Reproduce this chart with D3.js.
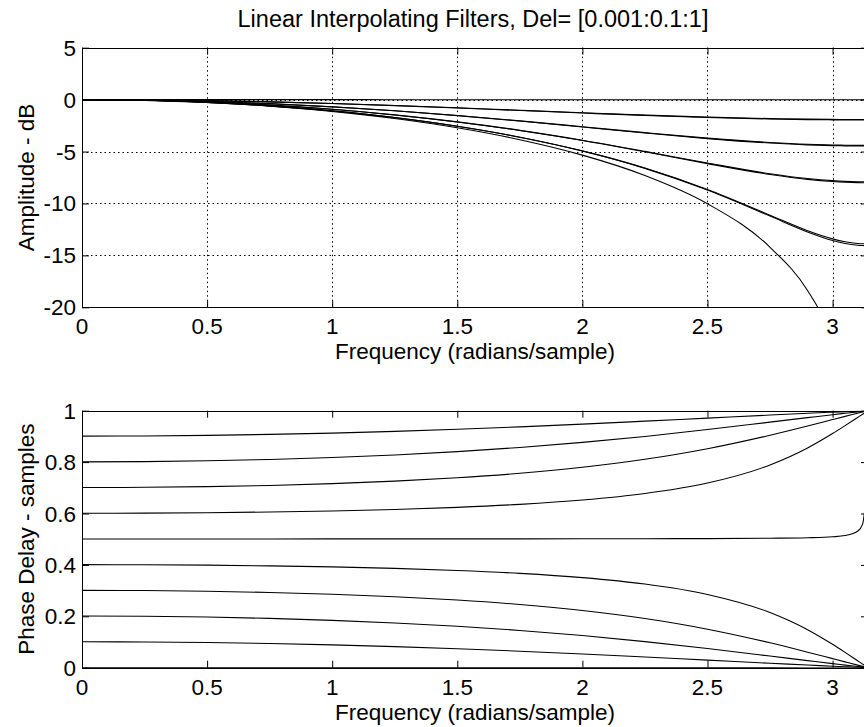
<!DOCTYPE html>
<html lang="en">
<head>
<meta charset="UTF-8">
<title>Linear Interpolating Filters</title>
<script src="https://cdn.jsdelivr.net/npm/d3@7"></script>
<style>
    body { margin: 0; background: #fff; overflow: hidden; }
    text { font-family: "Liberation Sans", Arial, Helvetica, sans-serif; fill: #000; }
    .grid line { stroke: #000; stroke-width: 1; stroke-dasharray: 1.5,3; }
    .curve { fill: none; stroke: #000; stroke-width: 1.1; }
    .tick line { stroke: #000; }
</style>
</head>
<body>
<script>
    // frequency grid (radians/sample)
    var freq = [0, 0.25, 0.5, 0.75, 1, 1.25, 1.5, 1.75, 2, 2.25, 2.5, 2.75, 2.9, 3.0, 3.05, 3.1, 3.12, 3.135];
    var delays = [0.001, 0.101, 0.201, 0.301, 0.401, 0.501, 0.601, 0.701, 0.801, 0.901];

    // amplitude in dB, one array per delay
    var ampDel001 = [0, -0.000, -0.001, -0.002, -0.004, -0.006, -0.008, -0.010, -0.012, -0.014, -0.016, -0.017, -0.017, -0.017, -0.017, -0.017, -0.017, -0.017];
    var ampDel101 = [0, -0.025, -0.098, -0.217, -0.379, -0.577, -0.803, -1.046, -1.291, -1.522, -1.720, -1.867, -1.924, -1.948, -1.955, -1.959, -1.960, -1.960];
    var ampDel201 = [0, -0.044, -0.174, -0.391, -0.694, -1.079, -1.540, -2.065, -2.635, -3.215, -3.752, -4.180, -4.354, -4.427, -4.450, -4.463, -4.465, -4.466];
    var ampDel301 = [0, -0.057, -0.230, -0.520, -0.934, -1.476, -2.154, -2.974, -3.935, -5.019, -6.160, -7.207, -7.680, -7.888, -7.954, -7.992, -8.000, -8.002];
    var ampDel401 = [0, -0.065, -0.263, -0.599, -1.084, -1.732, -2.568, -3.625, -4.953, -6.619, -8.705, -11.217, -12.745, -13.564, -13.849, -14.021, -14.054, -14.065];
    var ampDel501 = [0, -0.068, -0.274, -0.626, -1.134, -1.820, -2.713, -3.863, -5.347, -7.307, -10.025, -14.219, -18.379, -23.003, -26.79, -33.6, -39.2, -48.2];
    var ampDel601 = [0, -0.065, -0.263, -0.598, -1.082, -1.729, -2.562, -3.616, -4.937, -6.593, -8.659, -11.129, -12.618, -13.410, -13.684, -13.849, -13.881, -13.892];
    var ampDel701 = [0, -0.057, -0.229, -0.518, -0.930, -1.469, -2.144, -2.958, -3.911, -4.983, -6.109, -7.137, -7.600, -7.804, -7.869, -7.906, -7.913, -7.915];
    var ampDel801 = [0, -0.043, -0.173, -0.388, -0.688, -1.069, -1.526, -2.046, -2.608, -3.179, -3.708, -4.128, -4.299, -4.370, -4.392, -4.405, -4.407, -4.408];
    var ampDel901 = [0, -0.024, -0.096, -0.213, -0.372, -0.566, -0.787, -1.025, -1.265, -1.490, -1.683, -1.826, -1.882, -1.905, -1.912, -1.916, -1.916, -1.917];

    // phase delay in samples, one array per delay
    var pdDel001 = [0.001, 0.00099, 0.00096, 0.00091, 0.00084, 0.00076, 0.00066, 0.00056, 0.00045, 0.00035, 0.00024, 0.00014, 0.00008, 0.00005, 0.00003, 0.00001, 0.00001, 0];
    var pdDel101 = [0.101, 0.1002, 0.0980, 0.0942, 0.0889, 0.0821, 0.0738, 0.0642, 0.0534, 0.0417, 0.0295, 0.0174, 0.0104, 0.0059, 0.0038, 0.0017, 0.0009, 0.0003];
    var pdDel201 = [0.201, 0.2000, 0.1970, 0.1918, 0.1842, 0.1741, 0.1612, 0.1449, 0.1251, 0.1015, 0.0745, 0.0453, 0.0274, 0.0157, 0.0101, 0.0045, 0.0023, 0.0007];
    var pdDel301 = [0.301, 0.3001, 0.2974, 0.2928, 0.2859, 0.2763, 0.2633, 0.2459, 0.2226, 0.1914, 0.1499, 0.0969, 0.0604, 0.0352, 0.0226, 0.0101, 0.0052, 0.0016];
    var pdDel401 = [0.401, 0.4005, 0.3990, 0.3963, 0.3923, 0.3865, 0.3784, 0.3670, 0.3504, 0.3254, 0.2851, 0.2147, 0.1480, 0.0910, 0.0596, 0.0271, 0.0140, 0.0043];
    var pdDel501 = [0.501, 0.5010, 0.5010, 0.5010, 0.5011, 0.5012, 0.5012, 0.5014, 0.5016, 0.5019, 0.5024, 0.5037, 0.5057, 0.5094, 0.5143, 0.5309, 0.5587, 0.6740];
    var pdDel601 = [0.601, 0.6015, 0.6031, 0.6058, 0.6099, 0.6158, 0.6240, 0.6356, 0.6524, 0.6777, 0.7185, 0.7889, 0.8551, 0.9111, 0.9419, 0.9736, 0.9863, 0.9958];
    var pdDel701 = [0.701, 0.7019, 0.7046, 0.7092, 0.7162, 0.7258, 0.7389, 0.7564, 0.7797, 0.8108, 0.8520, 0.9045, 0.9405, 0.9654, 0.9778, 0.9900, 0.9949, 0.9984];
    var pdDel801 = [0.801, 0.8020, 0.8050, 0.8102, 0.8177, 0.8278, 0.8407, 0.8569, 0.8766, 0.8999, 0.9266, 0.9555, 0.9730, 0.9845, 0.9901, 0.9956, 0.9977, 0.9993];
    var pdDel901 = [0.901, 0.9017, 0.9040, 0.9077, 0.9129, 0.9196, 0.9278, 0.9372, 0.9478, 0.9593, 0.9712, 0.9830, 0.9899, 0.9942, 0.9963, 0.9983, 0.9991, 0.9997];

    var xTicks = [0, 0.5, 1, 1.5, 2, 2.5, 3];
    var ampTicks = [-20, -15, -10, -5, 0, 5];
    var pdTicks = [0, 0.2, 0.4, 0.6, 0.8, 1];

    var titleText = "Linear Interpolating Filters, Del= [0.001:0.1:1]";
    var xLabelText = "Frequency (radians/sample)";
    var ampLabelText = "Amplitude - dB";
    var pdLabelText = "Phase Delay - samples";

    var ampSeries = [ampDel001, ampDel101, ampDel201, ampDel301, ampDel401, ampDel501, ampDel601, ampDel701, ampDel801, ampDel901];
    var pdSeries = [pdDel001, pdDel101, pdDel201, pdDel301, pdDel401, pdDel501, pdDel601, pdDel701, pdDel801, pdDel901];

    var svg = d3.select("body").append("svg")
        .attr("width", 864).attr("height", 727);

    var left = 82, right = 868;
    var fontSize = 22.5;
    // matlab style labels: plain hyphen for minus
    var tickFmt = function (d) { return String(d); };

    var x = d3.scaleLinear().domain([0, Math.PI]).range([left, right]);
    var yAmp = d3.scaleLinear().domain([-20, 5]).range([307.3, 47.7]);
    var yPd = d3.scaleLinear().domain([0, 1]).range([667.7, 410.7]);

    var defs = svg.append("defs");

    function panel(name, y, yTicks, series, withGrid, yLabel) {
        var g = svg.append("g");
        var yb = y.range()[0], yt = y.range()[1];

        defs.append("clipPath").attr("id", "clip-" + name)
            .append("rect")
            .attr("x", left).attr("y", yt)
            .attr("width", right - left).attr("height", yb - yt);

        // dotted grid
        if (withGrid) {
            var grid = g.append("g").attr("class", "grid");
            grid.selectAll("line.v")
                .data(xTicks.filter(function (d) { return d > 0; }))
                .enter().append("line")
                .attr("x1", function (d) { return Math.round(x(d)) + 0.5; })
                .attr("x2", function (d) { return Math.round(x(d)) + 0.5; })
                .attr("y1", yt).attr("y2", yb);
            grid.selectAll("line.h")
                .data(yTicks.filter(function (d) { return y(d) < yb - 1 && y(d) > yt + 1; }))
                .enter().append("line")
                .attr("x1", left).attr("x2", right)
                .attr("y1", function (d) { return Math.round(y(d)) + 0.5; })
                .attr("y2", function (d) { return Math.round(y(d)) + 0.5; });
        }

        var line = d3.line()
            .curve(d3.curveMonotoneX)
            .x(function (d, i) { return x(freq[i]); })
            .y(function (d) { return y(d); });

        g.append("g").attr("clip-path", "url(#clip-" + name + ")")
            .selectAll("path")
            .data(series)
            .enter().append("path")
            .attr("class", "curve")
            .attr("d", line);

        // ticks pointing inwards on all four sides
        var noLab = function () { return ""; };
        g.append("g").attr("transform", "translate(0," + yb + ")")
            .call(d3.axisBottom(x).tickValues(xTicks).tickSize(-7).tickFormat(noLab));
        g.append("g").attr("transform", "translate(0," + yt + ")")
            .call(d3.axisTop(x).tickValues(xTicks).tickSize(-7).tickFormat(noLab));
        g.append("g").attr("transform", "translate(" + left + ",0)")
            .call(d3.axisLeft(y).tickValues(yTicks).tickSize(-7).tickFormat(noLab));
        g.append("g").attr("transform", "translate(" + right + ",0)")
            .call(d3.axisRight(y).tickValues(yTicks).tickSize(-7).tickFormat(noLab));
        g.selectAll(".domain").remove();

        g.append("rect")
            .attr("x", left + 0.5).attr("y", Math.round(yt) + 0.5)
            .attr("width", right - left).attr("height", Math.round(yb) - Math.round(yt))
            .attr("fill", "none").attr("stroke", "#000").attr("stroke-width", 1);

        // tick labels
        g.selectAll("text.xl")
            .data(xTicks).enter().append("text")
            .attr("x", function (d) { return x(d); })
            .attr("y", yb + 27)
            .attr("text-anchor", "middle")
            .style("font-size", fontSize + "px")
            .text(tickFmt);

        g.selectAll("text.yl")
            .data(yTicks).enter().append("text")
            .attr("x", left - 6)
            .attr("y", function (d) { return y(d) + 8; })
            .attr("text-anchor", "end")
            .style("font-size", fontSize + "px")
            .text(tickFmt);

        g.append("text")
            .attr("x", (left + right) / 2)
            .attr("y", yb + 52)
            .attr("text-anchor", "middle")
            .style("font-size", fontSize + "px")
            .text(xLabelText);

        g.append("text")
            .attr("transform", "translate(34," + ((yb + yt) / 2) + ") rotate(-90)")
            .attr("text-anchor", "middle")
            .style("font-size", fontSize + "px")
            .text(yLabel);
    }

    panel("amp", yAmp, ampTicks, ampSeries, true, ampLabelText);
    panel("pd", yPd, pdTicks, pdSeries, false, pdLabelText);

    svg.append("text")
        .attr("x", (left + right) / 2 - 2)
        .attr("y", 27)
        .attr("text-anchor", "middle")
        .style("font-size", "23.5px")
        .text(titleText);
</script>
</body>
</html>
